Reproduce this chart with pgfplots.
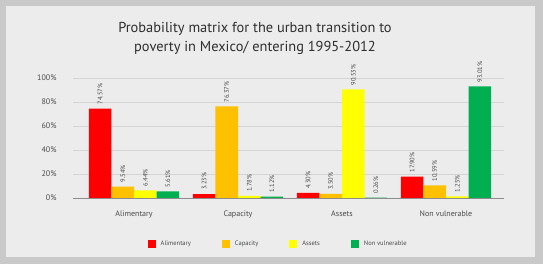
\documentclass[border=0pt]{standalone}
\usepackage{fontspec}
\setmainfont{PT Sans}
\usepackage{pgfplots}
\pgfplotsset{compat=1.18}

\definecolor{barred}{HTML}{FF0000}
\definecolor{barorange}{HTML}{FFC000}
\definecolor{baryellow}{HTML}{FFFF00}
\definecolor{bargreen}{HTML}{00B050}
\definecolor{panelbg}{HTML}{ECECEC}
\definecolor{framebg}{HTML}{C9C9C9}
\definecolor{gridgray}{HTML}{D4D4D4}
\definecolor{axisgray}{HTML}{8C8C8C}
\definecolor{labelgray}{HTML}{4A4A4A}
\definecolor{titlegray}{HTML}{2E2E2E}

% Transition probabilities (%), one table per destination state
\pgfplotstableread{
x y
0 74.57
1 3.23
2 4.30
3 17.90
}\alimentary
\pgfplotstableread{
x y
0 9.54
1 76.37
2 3.50
3 10.59
}\capacity
\pgfplotstableread{
x y
0 6.44
1 1.78
2 90.53
3 1.25
}\assets
\pgfplotstableread{
x y
0 5.61
1 1.12
2 0.26
3 93.01
}\nonvulnerable

\begin{document}
\begin{tikzpicture}
  % frame and panel
  \fill[framebg] (0pt,0pt) rectangle (543pt,264pt);
  \fill[panelbg] (6pt,7pt) rectangle (535pt,258pt);
  % title
  \node[font=\fontsize{14.4}{19}\selectfont, text=titlegray, align=center]
    at (255pt,226pt) {Probability matrix for the urban transition to\\poverty in Mexico/ entering 1995-2012};
  \begin{axis}[
    at={(73pt,66pt)}, anchor=south west,
    scale only axis, width=431pt, height=120pt,
    xmin=-0.587, xmax=3.558, ymin=0, ymax=100,
    ybar=0pt, bar width=22.6pt,
    clip=false,
    axis x line*=bottom, axis y line*=left,
    x axis line style={axisgray, line width=0.8pt},
    y axis line style={draw=none},
    ymajorgrids, grid style={gridgray, line width=0.7pt},
    major tick length=0pt,
    ytick={0,20,40,60,80,100},
    /pgf/number format/assume math mode=true,
    yticklabel={\pgfmathprintnumber{\tick}\%},
    yticklabel style={font=\fontsize{8}{9}\selectfont, text=labelgray, xshift=-13pt},
    xtick={0,1,2,3},
    xticklabels={Alimentary,Capacity,Assets,Non vulnerable},
    xticklabel style={font=\fontsize{8}{9}\selectfont, text=labelgray, yshift=-9pt},
    nodes near coords={\pgfmathprintnumber[fixed,fixed zerofill,precision=2]{\pgfplotspointmeta}\%},
    every node near coord/.append style={rotate=90, anchor=west,
      font=\fontsize{6.5}{7}\selectfont, text=labelgray, inner xsep=4pt, inner ysep=1pt},
    legend columns=4,
    legend style={at={(0.476,-0.383)}, anchor=center, draw=none, fill=none,
      font=\fontsize{6.5}{7}\selectfont, text=labelgray,
      /tikz/every odd column/.append style={column sep=3pt},
      /tikz/every even column/.append style={column sep=29pt}},
    legend image code/.code={\fill[#1] (0pt,-4pt) rectangle (8pt,4pt);},
  ]
    \addplot[fill=barred, draw=none] table[x=x,y=y] {\alimentary};
    \addplot[fill=barorange, draw=none] table[x=x,y=y] {\capacity};
    \addplot[fill=baryellow, draw=none] table[x=x,y=y] {\assets};
    \addplot[fill=bargreen, draw=none] table[x=x,y=y] {\nonvulnerable};
    \legend{Alimentary,Capacity,Assets,Non vulnerable}
  \end{axis}
  \pgfresetboundingbox
  \path (0pt,0pt) rectangle (543pt,264pt);
\end{tikzpicture}
\end{document}
